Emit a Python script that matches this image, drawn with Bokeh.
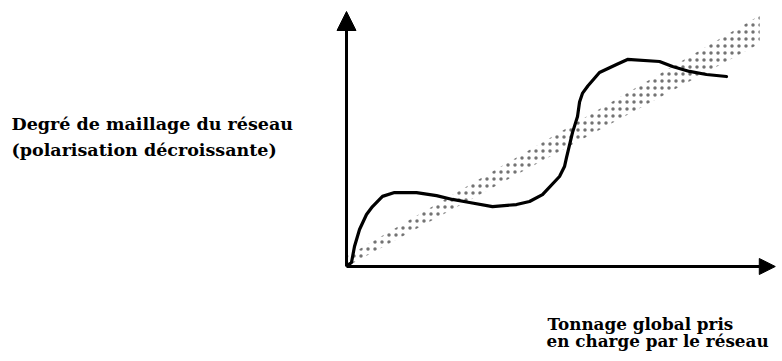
from bokeh.plotting import figure
from bokeh.models import Range1d, Arrow, NormalHead
from bokeh.core.properties import value
from bokeh.embed import file_html
from bokeh.resources import INLINE

# Schematic curve: degree of network meshing vs. total tonnage handled
curve_x = [0.23, 1.15, 1.84, 3.00, 4.61, 5.99, 8.29, 11.06, 16.13, 20.74, 24.42, 28.34,
           33.64, 39.17, 42.17, 45.16, 49.08, 50.23, 50.69, 52.07, 53.23, 53.70, 54.40, 55.60,
           58.29, 62.21, 64.75, 72.12, 75.12, 79.03, 82.95, 87.56]
curve_y = [0.39, 1.57, 7.84, 14.5, 20.4, 23.5, 27.5, 29.0, 29.0, 27.8, 26.3, 25.1,
           23.5, 24.3, 25.5, 28.2, 35.3, 39.2, 42.7, 52.5, 58.8, 64.5, 68.0, 70.8,
           76.1, 79.2, 81.2, 80.4, 78.4, 76.5, 75.3, 74.5]

# Dotted trend band (outline)
band_x = [0.46, 95.2, 95.2, 0.46]
band_y = [0.39, 87.5, 98.4, 4.3]

# Axis extents
axis_x_end = 98.8
axis_y_end = 100.0

y_label_lines = ["Degré de maillage du réseau", "(polarisation décroissante)"]
y_label_x = [-77.2, -77.2]
y_label_y = [55.7, 45.5]

x_label_lines = ["Tonnage global pris", "en charge par le réseau"]
x_label_x = [46.3, 46.1]
x_label_y = [-22.7, -29.4]

W, H = 776, 355
OX, OY = 346, 266      # canvas position of the origin
SX, SY = 4.34, 2.55    # pixels per data unit
p = figure(width=W, height=H, output_backend="svg", toolbar_location=None,
           x_range=Range1d(-OX / SX, (W - OX) / SX),
           y_range=Range1d(-(H - OY) / SY, OY / SY),
           min_border=0)
p.axis.visible = False
p.grid.visible = False
p.outline_line_color = None
p.background_fill_color = "white"
p.border_fill_color = "white"

# band
p.patch(band_x, band_y, fill_alpha=0, line_color=None,
        hatch_pattern="dot", hatch_color="black", hatch_alpha=0.55,
        hatch_scale=7, hatch_weight=1)

# axes with arrow heads
p.add_layout(Arrow(end=NormalHead(size=19, fill_color="black", line_color="black", line_width=1),
                   x_start=0, y_start=0, x_end=0, y_end=axis_y_end,
                   line_width=3, line_color="black"))
p.add_layout(Arrow(end=NormalHead(size=16, fill_color="black", line_color="black", line_width=1),
                   x_start=0, y_start=0, x_end=axis_x_end, y_end=0,
                   line_width=3, line_color="black"))

# curve
p.line(curve_x, curve_y, line_width=3.2, line_color="black",
       line_join="round", line_cap="round")

# labels
p.text(x=y_label_x, y=y_label_y, text=y_label_lines,
       text_font=value("DejaVu Serif"), text_font_style="bold",
       text_font_size="17.5px", text_baseline="alphabetic", text_align="left",
       text_color="black")
p.text(x=x_label_x, y=x_label_y, text=x_label_lines,
       text_font=value("DejaVu Serif"), text_font_style="bold",
       text_font_size="16.8px", text_baseline="alphabetic", text_align="left",
       text_color="black")

open("out.html", "w").write(file_html(p, INLINE))
